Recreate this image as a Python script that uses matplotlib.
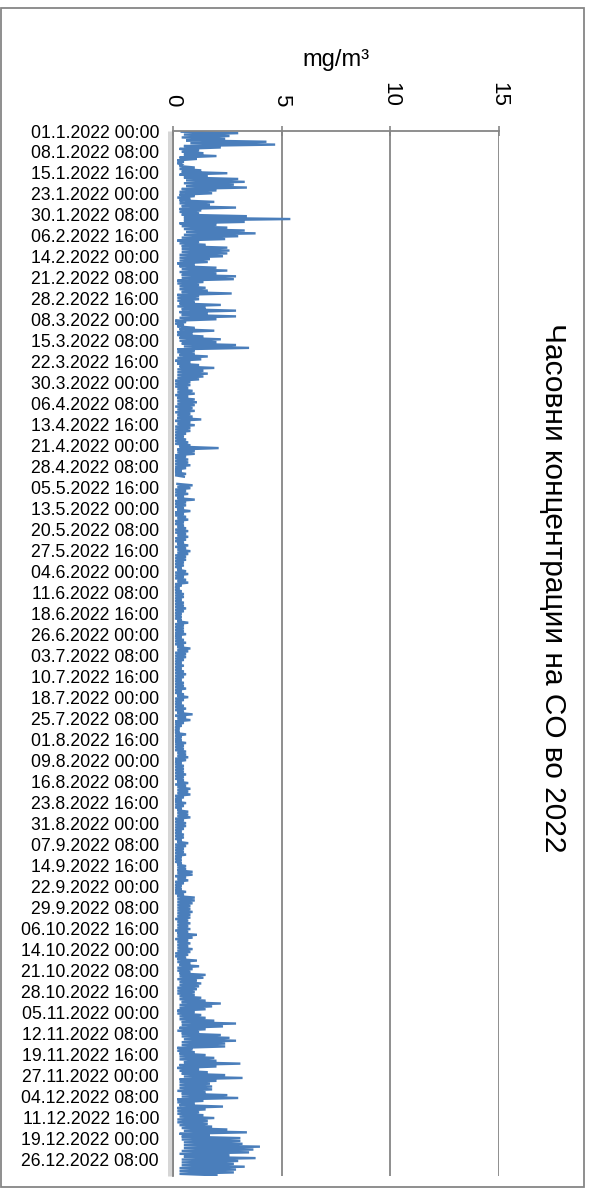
import numpy as np
import matplotlib
matplotlib.use('Agg')
import matplotlib.pyplot as plt
from matplotlib.patches import Rectangle
from matplotlib.transforms import offset_copy

nan = np.nan

naslov = 'Часовни концентрации на CO во 2022'
edinica = 'mg/m³'
x_ticks = [0, 5, 10, 15]

datumi = [
    '01.1.2022 00:00', '08.1.2022 08:00', '15.1.2022 16:00', '23.1.2022 00:00',
    '30.1.2022 08:00', '06.2.2022 16:00', '14.2.2022 00:00', '21.2.2022 08:00',
    '28.2.2022 16:00', '08.3.2022 00:00', '15.3.2022 08:00', '22.3.2022 16:00',
    '30.3.2022 00:00', '06.4.2022 08:00', '13.4.2022 16:00', '21.4.2022 00:00',
    '28.4.2022 08:00', '05.5.2022 16:00', '13.5.2022 00:00', '20.5.2022 08:00',
    '27.5.2022 16:00', '04.6.2022 00:00', '11.6.2022 08:00', '18.6.2022 16:00',
    '26.6.2022 00:00', '03.7.2022 08:00', '10.7.2022 16:00', '18.7.2022 00:00',
    '25.7.2022 08:00', '01.8.2022 16:00', '09.8.2022 00:00', '16.8.2022 08:00',
    '23.8.2022 16:00', '31.8.2022 00:00', '07.9.2022 08:00', '14.9.2022 16:00',
    '22.9.2022 00:00', '29.9.2022 08:00', '06.10.2022 16:00', '14.10.2022 00:00',
    '21.10.2022 08:00', '28.10.2022 16:00', '05.11.2022 00:00', '12.11.2022 08:00',
    '19.11.2022 16:00', '27.11.2022 00:00', '04.12.2022 08:00', '11.12.2022 16:00',
    '19.12.2022 00:00', '26.12.2022 08:00',
]
cas_chekor = 176      # saati megju dve oznaki
cas_marker = 528      # saati megju crtichkite
vkupno_casovi = 8760

# dneven maksimum (mg/m3), procenet od grafikot
dnevni_max = [
    3.0, 2.6, 2.4, 4.3, 4.7, 2.2, 1.2, 1.4, 2.0, 1.1, 0.5, 0.4, 1.0, 1.3, 2.5,
    1.6, 3.0, 3.3, 2.8, 3.4, 2.0, 1.8, 1.0, 0.8, 1.9, 1.7, 2.9, 1.3, 1.2, 3.4,
    5.4, 3.3, 2.0, 2.5, 3.3, 3.8, 3.0, 2.4, 1.2, 1.5, 2.5, 2.6, 2.5, 2.3, 1.7,
    1.6, 1.0, 2.0, 2.5, 2.0, 2.9, 2.8, 1.4, 1.2, 1.5, 1.6, 2.7, 1.2, 1.2, 1.0,
    2.2, 1.5, 2.9, 1.6,
    2.9, 2.0, 0.6, 0.5, 1.0, 1.9, 0.9, 1.4, 2.2, 2.0, 2.9, 3.5, 1.0, 1.0, 1.6,
    1.3, 0.8, 1.2, 1.9, 1.4, 1.6, 1.4, 1.2, 0.8, 0.8, 0.7, 0.9, 1.0, 0.7, 1.0,
    1.1, 1.0, 0.9, 1.0,
    0.8, 0.9, 1.3, 0.8, 1.0, 0.8, 0.8, 0.6, 0.5, 0.6, 0.7, 0.8, 2.1, 1.0, 1.0,
    0.6, 0.7, 0.7, 0.8, 0.6, 0.4, 0.6, 0.5, nan, nan, 0.9, 0.8, 0.6, 0.7, 0.5,
    1.0, 0.6, 0.6, 0.5,
    0.8, 0.5, 0.6, 0.7, 0.5, 0.5, 0.6, 0.7, 0.6, 0.7, 0.6, 0.5, 0.7, 0.6, 0.8,
    0.7, 0.6, 0.6, 0.5, 0.5, 0.4, 0.6, 0.7, 0.5, 0.6, 0.7, 0.4, 0.3, 0.4, 0.5,
    0.5, 0.4, 0.5, 0.5,
    0.6, 0.5, 0.4, 0.4, 0.4, 0.7, 0.5, 0.5, 0.5, 0.6, 0.4, 0.5, 0.6, 0.5, 0.8,
    0.7, 0.6, 0.6, 0.5, 0.4, 0.5, 0.4, 0.5, 0.6, 0.5, 0.4, 0.5, 0.5, 0.6, 0.4,
    0.5, 0.7, 0.5, 0.4,
    0.5, 0.6, 0.5, 0.9, 0.6, 0.8, 0.5, 0.4, 0.3, 0.3, 0.6, 0.4, 0.4, 0.6, 0.5,
    0.5, 0.6, 0.6, 0.7, 0.6, 0.4, 0.5, 0.5, 0.5, 0.6, 0.5, 0.5, 0.7, 0.6, 0.8,
    0.7, 0.8, 0.5, 0.4,
    0.6, 0.5, 0.4, 0.7, 0.7, 0.8, 0.5, 0.6, 0.6, 0.5, 0.4, 0.5, 0.5, 0.4, 0.7,
    0.6, 0.5, 0.5, 0.6, 0.4, 0.4, 0.4, 0.6, 0.6, 0.9, 0.9, 0.6, 0.7, 0.5, 0.4,
    0.4, 0.6, 0.5, 1.0,
    1.0, 0.9, 0.8, 0.8, 0.9, 0.8, 0.8, 0.7, 0.8, 0.7, 0.8, 0.7, 1.1, 0.9, 0.7,
    0.8, 0.7, 0.9, 0.8, 0.7, 0.6, 1.1, 0.8, 1.2, 0.9, 0.8, 1.5, 1.4, 1.1, 1.3,
    1.2, 1.1, 1.0, 1.0,
    1.3, 1.5, 2.2, 1.8, 1.5, 1.0, 1.3, 1.5, 1.9, 2.9, 2.3, 1.5, 1.2, 2.2, 2.6,
    2.9, 2.4, 2.4, 0.9, 1.0, 1.5, 1.9, 2.0, 3.1, 2.0, 1.2, 1.6, 2.4, 3.2, 2.0,
    1.7, 1.8,
    1.8, 1.5, 2.5, 3.0, 1.4, 1.0, 2.3, 1.5, 1.2, 1.4, 1.9, 1.6, 1.6, 1.8, 2.5,
    3.4, 1.7, 3.1, 3.1, 3.2, 4.0, 3.7, 3.5, 2.6, 3.8, 3.0, 2.8, 3.3, 2.9, 2.8,
    2.0,
]

# dneven minimum (mg/m3)
dnevni_min = [
    0.4, 0.5, 0.4, 0.6, 0.8, 0.5, 0.3, 0.4, 0.5, 0.3, 0.2, 0.2, 0.3, 0.3, 0.4,
    0.3, 0.5, 0.6, 0.5, 0.6, 0.4, 0.3, 0.3, 0.2, 0.3, 0.3, 0.4, 0.3, 0.3, 0.4,
    0.5, 0.5, 0.3, 0.4, 0.5, 0.6, 0.5, 0.4, 0.2, 0.3, 0.4, 0.4, 0.4, 0.3, 0.3,
    0.3, 0.2, 0.3, 0.4, 0.3, 0.4, 0.4, 0.2, 0.2, 0.3, 0.3, 0.4, 0.2, 0.2, 0.2,
    0.3, 0.2, 0.4, 0.3,
    0.4, 0.3, 0.1, 0.1, 0.2, 0.3, 0.2, 0.2, 0.3, 0.3, 0.4, 0.5, 0.2, 0.2, 0.3,
    0.2, 0.1, 0.2, 0.3, 0.2, 0.2, 0.2, 0.2, 0.1, 0.1, 0.1, 0.2, 0.2, 0.1, 0.2,
    0.2, 0.2, 0.1, 0.2,
    0.1, 0.2, 0.2, 0.1, 0.2, 0.1, 0.1, 0.1, 0.1, 0.1, 0.1, 0.1, 0.3, 0.2, 0.2,
    0.1, 0.1, 0.1, 0.1, 0.1, 0.1, 0.1, 0.1, nan, nan, 0.2, 0.2, 0.1, 0.1, 0.1,
    0.2, 0.1, 0.1, 0.1,
    0.2, 0.1, 0.1, 0.2, 0.1, 0.1, 0.2, 0.1, 0.1, 0.2, 0.1, 0.1, 0.2, 0.1, 0.2,
    0.2, 0.1, 0.1, 0.1, 0.1, 0.1, 0.2, 0.1, 0.1, 0.1, 0.2, 0.1, 0.1, 0.1, 0.1,
    0.1, 0.1, 0.1, 0.1,
    0.1, 0.1, 0.1, 0.1, 0.1, 0.2, 0.1, 0.1, 0.1, 0.1, 0.1, 0.1, 0.1, 0.1, 0.2,
    0.2, 0.1, 0.1, 0.1, 0.1, 0.1, 0.1, 0.1, 0.1, 0.1, 0.1, 0.1, 0.1, 0.1, 0.1,
    0.1, 0.2, 0.1, 0.1,
    0.1, 0.1, 0.1, 0.2, 0.1, 0.2, 0.1, 0.1, 0.1, 0.1, 0.1, 0.1, 0.1, 0.1, 0.1,
    0.1, 0.1, 0.2, 0.2, 0.1, 0.1, 0.1, 0.1, 0.1, 0.1, 0.1, 0.1, 0.2, 0.1, 0.2,
    0.2, 0.2, 0.1, 0.1,
    0.1, 0.1, 0.1, 0.2, 0.2, 0.2, 0.1, 0.1, 0.1, 0.1, 0.1, 0.1, 0.1, 0.1, 0.2,
    0.1, 0.1, 0.1, 0.1, 0.1, 0.1, 0.1, 0.2, 0.2, 0.2, 0.2, 0.1, 0.2, 0.1, 0.1,
    0.1, 0.1, 0.1, 0.2,
    0.2, 0.2, 0.2, 0.2, 0.2, 0.2, 0.2, 0.1, 0.2, 0.2, 0.2, 0.1, 0.2, 0.2, 0.1,
    0.2, 0.2, 0.2, 0.2, 0.1, 0.1, 0.2, 0.2, 0.3, 0.2, 0.2, 0.3, 0.3, 0.2, 0.3,
    0.3, 0.2, 0.2, 0.2,
    0.3, 0.3, 0.4, 0.3, 0.3, 0.2, 0.2, 0.3, 0.3, 0.4, 0.4, 0.3, 0.2, 0.4, 0.4,
    0.5, 0.4, 0.4, 0.2, 0.2, 0.3, 0.3, 0.3, 0.5, 0.3, 0.2, 0.3, 0.4, 0.5, 0.3,
    0.3, 0.3,
    0.3, 0.2, 0.4, 0.4, 0.2, 0.2, 0.3, 0.2, 0.2, 0.2, 0.3, 0.2, 0.2, 0.3, 0.4,
    0.5, 0.3, 0.4, 0.4, 0.5, 0.5, 0.5, 0.4, 0.3, 0.5, 0.4, 0.4, 0.4, 0.3, 0.3,
    0.3,
]

plt.rcParams['font.family'] = ['Liberation Sans', 'DejaVu Sans']
siva = '#868686'
sina = '#4a7ebb'

W, H = 593, 1195
fig = plt.figure(figsize=(W / 100, H / 100), dpi=100)
ax = fig.add_axes([173 / W, 1 - 1176 / H, 326 / W, (1176 - 131) / H])

# min/max naizmenicno vo tekot na denot
vrednosti = np.column_stack([dnevni_min, dnevni_max]).ravel()
casovi = np.arange(len(vrednosti)) * 12 + 6
ax.plot(vrednosti, casovi, color=sina, lw=1.7, solid_joinstyle='miter')

ax.set_xlim(0, 15)
ax.set_ylim(vkupno_casovi, 0)

ax.xaxis.tick_top()
ax.set_xticks(x_ticks)
ax.set_xticklabels([str(t) for t in x_ticks])
ax.tick_params(axis='x', direction='inout', length=7, width=1.2, color=siva,
               labelsize=16, labelrotation=-90, pad=14)
ax.grid(axis='x', color=siva, lw=1.3)

ax.set_yticks(np.arange(len(datumi)) * cas_chekor)
ax.set_yticklabels(datumi)
ax.tick_params(axis='y', which='major', length=0, labelsize=12.7, pad=10)
ax.set_yticks(np.arange(0, vkupno_casovi + 1, cas_marker), minor=True)
ax.tick_params(axis='y', which='minor', direction='out', length=4, width=1.2,
               color=siva)

for s in ['right', 'bottom']:
    ax.spines[s].set_visible(False)
for s in ['top', 'left']:
    ax.spines[s].set_color(siva)
    ax.spines[s].set_linewidth(1.3)

# svetlo siv pojas levo od oskata
ax.plot([0, 0], [0, 1], transform=offset_copy(ax.transAxes, fig=fig, x=-3.5, y=0, units='dots'),
        lw=5 * 0.72, color='#d6d6d6', clip_on=False, solid_capstyle='butt', zorder=0)

fig.text(553 / W, 1 - 588 / H, naslov, rotation=-90, ha='center', va='center', fontsize=21.5)
fig.text(336 / W, 1 - 60 / H, edinica, ha='center', va='center', fontsize=17)

fig.patches.append(Rectangle((1 / W, 1 - 1187 / H), 583 / W, 1179 / H, fill=False,
                             ec=siva, lw=1.3, transform=fig.transFigure))

fig.savefig('out.png', dpi=100)
